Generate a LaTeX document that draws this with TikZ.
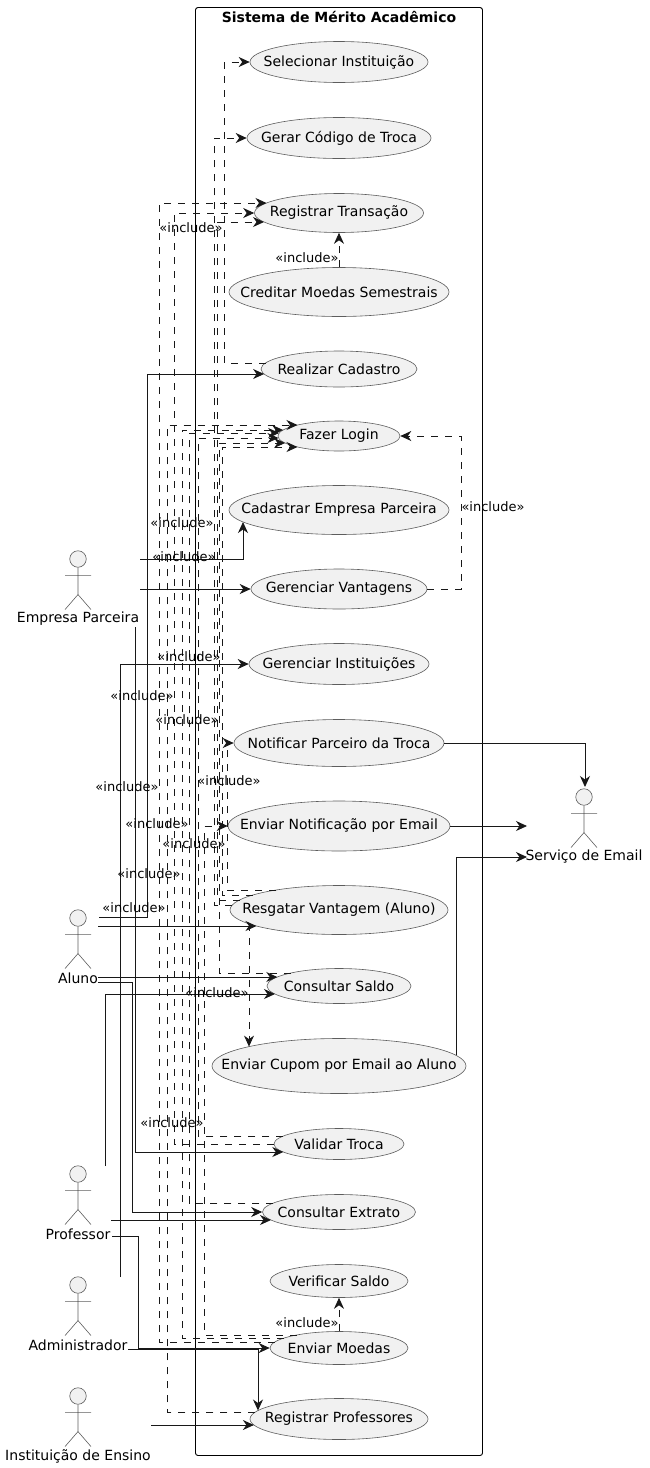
\documentclass[tikz,border=0pt]{standalone}
\usepackage{fontspec}
\setmainfont{DejaVu Sans}
\usetikzlibrary{shapes,arrows.meta}

\definecolor{ucfill}{HTML}{F1F1F1}
\definecolor{ucline}{HTML}{181818}

\newcommand{\ucactor}[4]{
    \node [actorhead] (#1) at (#2,#3) {};
    \draw [actorline] (#1.south) -- ++(0,27) -- ++(-13,15) (#1.south) ++(0,27) -- ++(13,15) (#1.south) ++(-13,8) -- ++(26,0);
    \node [actorname, below of=#1, node distance=60pt] (#1name) {#4};
}
\newcommand{\ucport}[4]{\coordinate (#1) at ([shift={(#3,#4)}]#2.center);}

\begin{document}
\begin{tikzpicture}[x=1pt, y=-1pt]
    \tikzstyle{frame} = [rectangle, draw=black, line width=0.9pt, rounded corners=2.5pt, inner sep=0pt, minimum width=287pt, minimum height=1448pt]
    \tikzstyle{usecase} = [ellipse, draw=ucline!70, line width=0.6pt, fill=ucfill, inner sep=0pt, node distance=75pt]
    \tikzstyle{every label} = [inner sep=0pt, text=black, font=\fontsize{14}{16}\selectfont]
    \tikzstyle{actorhead} = [circle, draw=ucline!70, line width=0.6pt, fill=ucfill, inner sep=0pt, minimum size=16.5pt]
    \tikzstyle{actorline} = [draw=ucline!70, line width=0.6pt]
    \tikzstyle{actorname} = [inner sep=0pt, font=\fontsize{14}{16}\selectfont]
    \tikzstyle{inc} = [inner sep=0pt, font=\fontsize{13}{15}\selectfont]
    \tikzstyle{line} = [draw=ucline, line width=0.9pt, -{Stealth[length=11pt, width=10pt, inset=3.5pt]}]
    \tikzstyle{dep} = [line, dash pattern=on 7pt off 7pt]

    \useasboundingbox (0,0) rectangle (649,1468);

    \node [frame] (system) at (339,731.5) {};
    \node [inner sep=0pt, font=\fontsize{14}{16}\selectfont\bfseries] (systemtitle) at (339,17) {Sistema de Mérito Acadêmico};

    \node [usecase, minimum width=178pt, minimum height=41pt, label=center:{Selecionar Instituição}] (selecionar) at (339,62) {};
    \node [usecase, minimum width=184pt, minimum height=41pt, below of=selecionar, node distance=76pt, label=center:{Gerar Código de Troca}] (gerar) {};
    \node [usecase, minimum width=169pt, minimum height=39pt, below of=gerar, label=center:{Registrar Transação}] (transacao) {};
    \node [usecase, minimum width=220pt, minimum height=49pt, below of=transacao, node distance=79pt, label=center:{Creditar Moedas Semestrais}] (creditar) {};
    \node [usecase, minimum width=156pt, minimum height=36pt, below of=creditar, node distance=77pt, label=center:{Realizar Cadastro}] (cadastro) {};
    \node [usecase, minimum width=122pt, minimum height=30pt, below of=cadastro, node distance=67pt, label=center:{Fazer Login}] (login) {};
    \node [usecase, minimum width=220pt, minimum height=49pt, below of=login, node distance=74pt, label=center:{Cadastrar Empresa Parceira}] (empresa) {};
    \node [usecase, minimum width=176pt, minimum height=40pt, below of=empresa, node distance=79pt, label=center:{Gerenciar Vantagens}] (vantagens) {};
    \node [usecase, minimum width=180pt, minimum height=41pt, below of=vantagens, label=center:{Gerenciar Instituições}] (instituicoes) {};
    \node [usecase, minimum width=210pt, minimum height=47pt, below of=instituicoes, node distance=79pt, label=center:{Notificar Parceiro da Troca}] (notificar) {};
    \node [usecase, minimum width=222pt, minimum height=50pt, below of=notificar, node distance=83pt, label=center:{Enviar Notificação por Email}] (email) {};
    \node [usecase, minimum width=218pt, minimum height=49pt, below of=email, node distance=84pt, label=center:{Resgatar Vantagem (Aluno)}] (resgatar) {};
    \node [usecase, minimum width=144pt, minimum height=35pt, below of=resgatar, node distance=76pt, label=center:{Consultar Saldo}] (saldo) {};
    \node [usecase, minimum width=254pt, minimum height=55pt, below of=saldo, node distance=80pt, label=center:{Enviar Cupom por Email ao Aluno}] (cupom) {};
    \node [usecase, minimum width=130pt, minimum height=31pt, below of=cupom, node distance=78pt, label=center:{Validar Troca}] (validar) {};
    \node [usecase, minimum width=153pt, minimum height=35pt, below of=validar, node distance=68pt, label=center:{Consultar Extrato}] (extrato) {};
    \node [usecase, minimum width=138pt, minimum height=33pt, below of=extrato, node distance=69pt, label=center:{Verificar Saldo}] (verificar) {};
    \node [usecase, minimum width=138pt, minimum height=33pt, below of=verificar, node distance=67pt, label=center:{Enviar Moedas}] (moedas) {};
    \node [usecase, minimum width=178pt, minimum height=41pt, below of=moedas, node distance=71pt, label=center:{Registrar Professores}] (professores) {};

    \ucactor{parceira}{78}{559}{Empresa Parceira}
    \ucactor{aluno}{78}{918}{Aluno}
    \ucactor{professor}{78}{1174}{Professor}
    \ucactor{admin}{78}{1285}{Administrador}
    \ucactor{ensino}{78}{1396}{Instituição de Ensino}
    \ucactor{servico}{584}{797}{Serviço de Email}

    \coordinate (parceiraA) at (140,559);
    \coordinate (parceiraB) at (140,589);
    \coordinate (parceiraC) at (135,627);
    \coordinate (alunoA) at (99,917);
    \coordinate (alunoB) at (98,926);
    \coordinate (alunoC) at (98,977);
    \coordinate (alunoD) at (98,982);
    \coordinate (professorA) at (105,1166);
    \coordinate (professorB) at (111,1220);
    \coordinate (professorC) at (112,1236);
    \coordinate (adminA) at (120,1277);
    \coordinate (adminB) at (128,1349);
    \coordinate (ensinoA) at (151,1425);
    \coordinate (servicoA) at (585,787);
    \coordinate (servicoB) at (527,826);
    \coordinate (servicoC) at (527,857);

    \coordinate (laneCadastro) at (147,0);
    \coordinate (laneExtrato) at (132,0);
    \coordinate (laneMoedas) at (138,0);
    \coordinate (laneSel) at (224,0);
    \coordinate (laneGerar) at (214,0);
    \coordinate (laneTransA) at (159,0);
    \coordinate (laneTransB) at (174,0);
    \coordinate (laneTransC) at (217,0);
    \coordinate (laneLoginA) at (167,0);
    \coordinate (laneLoginB) at (182,0);
    \coordinate (laneLoginC) at (189,0);
    \coordinate (laneLoginD) at (198,0);
    \coordinate (laneLoginE) at (219,0);
    \coordinate (laneLoginF) at (222,0);
    \coordinate (laneNotif) at (227,0);
    \coordinate (laneEmail) at (204,0);
    \coordinate (laneVant) at (461,0);

    \ucport{cadastroA}{cadastro}{-73.5}{-6}
    \ucport{cadastroB}{cadastro}{-74.9}{5}
    \ucport{transacaoA}{transacao}{-72.5}{-10}
    \ucport{transacaoC}{transacao}{-75}{9}
    \ucport{loginA}{login}{-41.5}{-11}
    \ucport{loginB}{login}{-55.9}{-6}
    \ucport{loginC}{login}{-59.8}{-3}
    \ucport{loginD}{login}{-60.5}{2}
    \ucport{loginE}{login}{-53.9}{7}
    \ucport{loginF}{login}{-41.5}{11}
    \ucport{empresaA}{empresa}{-96}{12}
    \ucport{resgatarA}{resgatar}{-63}{-20}
    \ucport{resgatarB}{resgatar}{-86.2}{-15}
    \ucport{resgatarC}{resgatar}{-99.5}{-10}
    \ucport{resgatarD}{resgatar}{-106.7}{-5}
    \ucport{resgatarE}{resgatar}{-82.5}{16}
    \ucport{resgatarF}{resgatar}{-90}{13.8}
    \ucport{saldoA}{saldo}{-48.2}{-13}
    \ucport{saldoB}{saldo}{-61.7}{-9}
    \ucport{saldoC}{saldo}{-64}{8}
    \ucport{cupomA}{cupom}{-90}{-19.4}
    \ucport{cupomB}{cupom}{117}{-10.7}
    \ucport{validarA}{validar}{-55.7}{-8}
    \ucport{validarB}{validar}{-55.7}{8}
    \ucport{extratoA}{extrato}{-65.6}{-9}
    \ucport{extratoB}{extrato}{-68}{8}
    \ucport{moedasA}{moedas}{-42.5}{-13}
    \ucport{moedasB}{moedas}{-54.9}{-10}
    \ucport{moedasC}{moedas}{-64.3}{-6}
    \ucport{professoresA}{professores}{-83.6}{-7}
    \ucport{professoresB}{professores}{-85.1}{6}
    \ucport{professoresC}{professores}{-81}{-8.5}

    \path [line] (alunoA) -| (laneCadastro |- cadastroB) -- (cadastroB);
    \path [line] (alunoB) -- (alunoB -| resgatarE);
    \path [line] (alunoC) -- (alunoC -| saldoB);
    \path [line] (alunoD) -| (laneExtrato |- extrato.west) -- (extrato.west);
    \path [line] (professorA) |- (saldoC);
    \path [line] (professorB) -- (professorB -| extratoB);
    \path [line] (professorC) -| (laneMoedas |- moedas.west) -- (moedas.west);
    \path [line] (parceiraA) -| (empresaA);
    \path [line] (parceiraB) -- (vantagens.west);
    \path [line] (parceiraC) |- (validarB);
    \path [line] (adminA) |- (instituicoes.west);
    \path [line] (adminB) -| (professoresC);
    \path [line] (ensinoA) -- (ensinoA -| professoresB);
    \path [line] (notificar.east) -| (servicoA);
    \path [line] (email.east) -- (servicoB);
    \path [line] (cupomB) |- (servicoC);

    \path [dep] (creditar.north) -- (transacao.south);
    \path [dep] (moedas.north) -- (verificar.south);
    \path [dep] (resgatarF) -- (resgatarF |- cupomA);
    \path [dep] (cadastroA) -| (laneSel |- selecionar.west) -- (selecionar.west);
    \path [dep] (resgatarD) -| (laneGerar |- gerar.west) -- (gerar.west);
    \path [dep] (moedasC) -| (laneTransA |- transacaoA) -- (transacaoA);
    \path [dep] (validar.west) -| (laneTransB |- transacao.west) -- (transacao.west);
    \path [dep] (resgatarC) -| (laneTransC |- transacaoC) -- (transacaoC);
    \path [dep] (professoresA) -| (laneLoginA |- loginA) -- (loginA);
    \path [dep] (moedasB) -| (laneLoginB |- loginB) -- (loginB);
    \path [dep] (extratoA) -| (laneLoginC |- loginC) -- (loginC);
    \path [dep] (validarA) -| (laneLoginD |- loginD) -- (loginD);
    \path [dep] (saldoA) -| (laneLoginE |- loginE) -- (loginE);
    \path [dep] (resgatarB) -| (laneLoginF |- loginF) -- (loginF);
    \path [dep] (resgatarA) -| (laneNotif |- notificar.west) -- (notificar.west);
    \path [dep] (moedasA) -| (laneEmail |- email.west) -- (email.west);
    \path [dep] (vantagens.east) -| (laneVant |- login.east) -- (login.east);

    \node [inc] (incA) at (191,228) {«include»};
    \node [inc] (incB) at (307,258) {«include»};
    \node [inc] (incC) at (182,523) {«include»};
    \node [inc] (incD) at (184,557) {«include»};
    \node [inc] (incE) at (493,507) {«include»};
    \node [inc] (incF) at (189,657) {«include»};
    \node [inc] (incG) at (142,696) {«include»};
    \node [inc] (incH) at (187,720) {«include»};
    \node [inc] (incI) at (229,781) {«include»};
    \node [inc] (incJ) at (127,787) {«include»};
    \node [inc] (incK) at (157,824) {«include»};
    \node [inc] (incL) at (194,844) {«include»};
    \node [inc] (incM) at (149,874) {«include»};
    \node [inc] (incN) at (134,908) {«include»};
    \node [inc] (incO) at (217,993) {«include»};
    \node [inc] (incP) at (172,1123) {«include»};
    \node [inc] (incQ) at (307,1323) {«include»};
\end{tikzpicture}
\end{document}
